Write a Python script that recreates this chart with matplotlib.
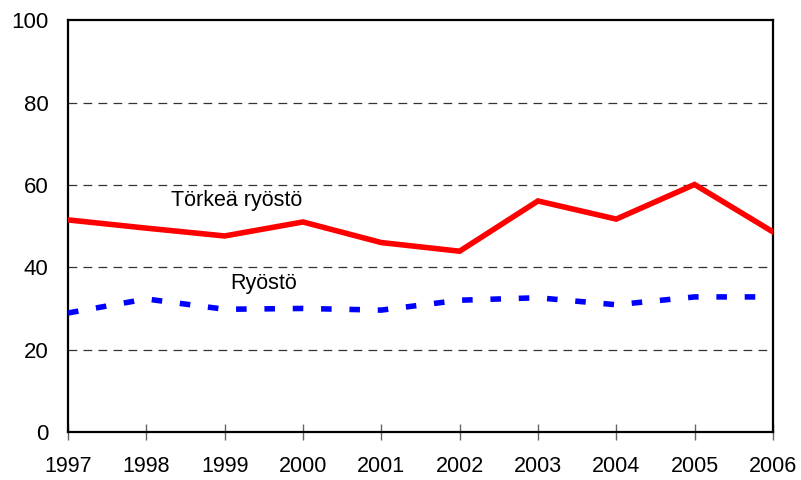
import matplotlib
matplotlib.use('Agg')
import matplotlib.pyplot as plt

years = [1997, 1998, 1999, 2000, 2001, 2002, 2003, 2004, 2005, 2006]
torkea_ryosto = [51.5, 49.5, 47.6, 51.0, 46.0, 43.9, 56.1, 51.7, 60.1, 48.6]
ryosto = [28.9, 32.3, 29.8, 30.0, 29.6, 32.0, 32.6, 30.9, 32.8, 32.8]
y_ticks = [0, 20, 40, 60, 80, 100]

plt.rcParams['font.family'] = ['Liberation Sans', 'DejaVu Sans']

fig = plt.figure(figsize=(8.01, 4.80), dpi=100)
ax = fig.add_axes([0.0849, 0.1, 0.880, 0.858])

for y in y_ticks[1:-1]:
  ax.axhline(y, color='#333333', lw=0.9, ls=(0, (7, 5)), zorder=1)

ax.plot(years, torkea_ryosto, color='#ff0000', lw=4.0, zorder=3, solid_joinstyle='miter')
ax.plot(years, ryosto, color='#0000ff', lw=4.0, ls=(0, (1.9, 3.2)),
        dash_capstyle='butt', zorder=3)

ax.annotate('Törkeä ryöstö', xy=(1999.15, 56.2), ha='center', va='center', fontsize=15.5)
ax.annotate('Ryöstö', xy=(1999.5, 36.1), ha='center', va='center', fontsize=15.5)

ax.set_xlim(1997, 2006)
ax.set_ylim(0, 100)
ax.set_yticks(y_ticks)
ax.set_xticks(years)
ax.set_xticklabels([str(y) for y in years], fontsize=15.5)
ax.tick_params(axis='y', length=0, labelsize=16, pad=14)
ax.tick_params(axis='x', direction='inout', length=11, width=1, color='#666666', pad=12)

for side in ['left', 'right', 'top', 'bottom']:
  ax.spines[side].set_linewidth(1.6)
  ax.spines[side].set_color('black')

plt.savefig('out.png', dpi=100)
